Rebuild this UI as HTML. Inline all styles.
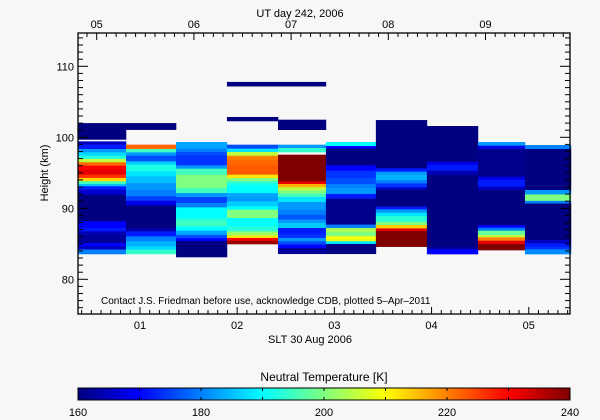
<!DOCTYPE html>
<html><head><meta charset="utf-8"><style>
html,body{margin:0;padding:0;background:#f7f7f7;}
svg{display:block;font-family:"Liberation Sans",sans-serif;}
</style></head><body>
<svg id="chart" width="600" height="420" viewBox="0 0 600 420" xmlns="http://www.w3.org/2000/svg">
<rect x="0" y="0" width="600" height="420" fill="#f7f7f7"/>
<g id="cells"></g>
<g id="axes"></g>
<text x="300" y="17" font-size="11" text-anchor="middle">UT day 242, 2006</text>
<text x="310" y="343" font-size="11" text-anchor="middle">SLT 30 Aug 2006</text>
<text transform="translate(48,173) rotate(-90)" font-size="11" text-anchor="middle">Height (km)</text>
<text x="101" y="304" font-size="10">Contact J.S. Friedman before use, acknowledge CDB, plotted 5–Apr–2011</text>
<text x="324" y="381" font-size="12" text-anchor="middle">Neutral Temperature [K]</text>
<g id="cbar"></g>
</svg>
<script>
// ---- data ----
const colStartUT = [4.808,5.301,5.816,6.340,6.865,7.358,7.872,8.397,8.922,9.406];
const colEndUT   = [5.301,5.816,6.340,6.865,7.358,7.872,8.397,8.922,9.406,9.879];
// per-column segments: [topKm, bottomKm, temperatureK]
const col1 = [[102.0,99.7,160],[99.43,98.97,165],[98.97,98.35,172],[98.35,97.88,182],[97.88,97.41,187],[97.41,96.95,193],[96.95,96.48,205],[96.48,96.0,222],[96.0,95.44,230],[95.44,94.74,232],[94.74,94.27,226],[94.27,93.8,213],[93.8,93.42,195],[93.42,93.1,185],[93.1,92.63,172],[92.63,91.92,166],[91.92,88.17,160],[88.17,87.23,170],[87.23,86.76,172],[86.76,86.29,164],[86.29,85.1,162],[85.1,84.65,170],[84.65,84.2,165],[84.2,83.57,180]];
const col2 = [[102.0,101.08,160],[98.97,98.35,222],[98.35,97.88,195],[97.88,97.41,182],[97.41,96.62,176],[96.62,96.15,186],[96.15,95.21,192],[95.21,94.5,188],[94.5,93.56,185],[93.56,92.63,182],[92.63,91.69,180],[91.69,91.08,175],[91.08,90.42,168],[90.42,87.23,160],[87.23,86.76,163],[86.76,86.05,172],[86.05,85.35,180],[85.35,84.65,184],[84.65,84.18,187],[84.18,83.57,194]];
const col3 = [[99.34,98.4,183],[98.4,97.93,180],[97.93,97.46,176],[97.46,96.05,174],[96.05,95.58,182],[95.58,94.73,195],[94.73,92.86,200],[92.86,92.15,195],[92.15,91.59,182],[91.59,90.74,175],[90.74,90.13,180],[90.13,88.63,190],[88.63,88.16,193],[88.16,87.46,195],[87.46,86.85,190],[86.85,86.25,183],[86.25,85.78,176],[85.78,85.4,170],[85.4,83.14,160]];
const col4 = [[107.8,107.2,160],[102.86,102.3,160],[98.96,98.4,176],[98.4,97.93,188],[97.93,97.41,205],[97.41,96.85,220],[96.85,96.05,222],[96.05,94.73,223],[94.73,94.27,212],[94.27,93.8,200],[93.8,93.33,193],[93.33,92.15,190],[92.15,91.59,183],[91.59,90.98,182],[90.98,90.28,186],[90.28,89.81,190],[89.81,88.63,200],[88.63,88.16,190],[88.16,87.46,190],[87.46,86.75,193],[86.75,86.19,202],[86.19,85.82,212],[85.82,85.44,230],[85.44,84.97,238]];
const col5 = [[107.8,107.2,160],[102.48,101.07,160],[98.96,98.49,182],[98.49,97.93,194],[97.55,93.8,240],[93.8,93.42,232],[93.42,92.95,216],[92.95,92.53,205],[92.53,92.06,200],[92.06,91.59,195],[91.59,90.88,188],[90.88,89.81,182],[89.81,89.1,180],[89.1,88.4,177],[88.4,87.93,182],[87.93,87.23,186],[87.23,86.29,172],[86.29,85.82,174],[85.82,85.35,182],[85.35,84.88,176],[84.88,84.41,170],[84.41,83.6,162]];
const col6 = [[99.34,98.77,190],[98.77,98.4,170],[98.4,96.05,160],[96.05,95.3,170],[95.3,94.27,174],[94.27,93.42,176],[93.42,92.86,180],[92.86,92.02,182],[92.02,91.36,172],[91.36,87.7,161],[87.7,87.23,180],[87.23,86.66,203],[86.66,86.05,200],[86.05,85.72,210],[85.72,85.35,208],[85.35,84.97,188],[84.97,83.6,160]];
const col7 = [[102.43,95.63,160],[95.63,95.16,172],[95.16,94.69,182],[94.69,93.98,184],[93.98,93.51,180],[93.51,92.95,174],[92.95,92.57,165],[92.57,90.23,160],[90.23,89.85,172],[89.85,89.38,182],[89.38,88.91,188],[88.91,88.11,193],[88.11,87.64,200],[87.64,87.17,214],[87.17,86.8,232],[86.8,84.6,240]];
const col8 = [[101.59,96.56,160],[96.56,96.1,168],[96.1,95.3,172],[95.3,94.69,164],[94.69,84.5,160],[84.5,84.22,163],[84.22,83.56,170]];
const col9 = [[99.33,98.82,182],[98.82,98.35,168],[98.35,94.45,161],[94.45,93.98,168],[93.98,93.04,172],[93.04,92.57,165],[92.57,87.64,160],[87.64,87.27,170],[87.27,86.85,180],[86.85,86.24,198],[86.24,85.91,205],[85.91,85.44,220],[85.44,84.97,232],[84.97,84.12,240]];
const col10 = [[98.91,98.35,180],[98.35,92.57,160],[92.57,91.95,182],[91.95,91.05,200],[91.05,90.67,180],[90.67,85.53,160],[85.53,85.06,165],[85.06,84.59,172],[84.59,84.22,174],[84.22,83.56,181]];
const columns = [col1,col2,col3,col4,col5,col6,col7,col8,col9,col10];
const yTicks = [80,90,100,110];
const topTickUT = [5,6,7,8,9];
const topTickLabels = ["05","06","07","08","09"];
const bottomTickSLT = [1,2,3,4,5];
const bottomTickLabels = ["01","02","03","04","05"];
const cbarTicks = [160,180,200,220,240];
const sltOffset = 4.445; // UT - SLT (hours)

// ---- scales ----
const X0=78, X1=570, Y0=33, Y1=314;
const xUT = ut => 96.7 + (ut-5)*97.2;
const yKm = h => 279.3 - (h-80)*7.1;
const tMin=160, tMax=240;
function clamp(v){return Math.max(0,Math.min(1,v));}
function jet(T){
  const t=clamp((T-tMin)/(tMax-tMin));
  const r=clamp(1.5-Math.abs(4*t-3)), g=clamp(1.5-Math.abs(4*t-2)), b=clamp(1.5-Math.abs(4*t-1));
  return `rgb(${Math.round(r*255)},${Math.round(g*255)},${Math.round(b*255)})`;
}
const NS="http://www.w3.org/2000/svg";
function mk(tag,attrs,parent){const e=document.createElementNS(NS,tag);for(const k in attrs)e.setAttribute(k,attrs[k]);parent.appendChild(e);return e;}

// ---- cells ----
const cells=document.getElementById('cells');
columns.forEach((col,i)=>{
  const xa=xUT(colStartUT[i]), xb=xUT(colEndUT[i]);
  col.forEach(s=>{
    const ya=yKm(s[0]), yb=yKm(s[1]);
    const r=mk('rect',{x:xa.toFixed(2),y:ya.toFixed(2),width:(xb-xa+0.3).toFixed(2),height:(yb-ya+0.3).toFixed(2),fill:jet(s[2])},cells);
    
    
  });
});

// ---- axes ----
const ax=document.getElementById('axes');
const frame=mk('rect',{x:X0,y:Y0,width:X1-X0,height:Y1-Y0,fill:'none',stroke:'#000','stroke-width':1.3},ax);


for(let h=76;h<=114;h++){
  const y=yKm(h); if(y<Y0||y>Y1)continue;
  const major=h%10===0, L=major?10:5;
  mk('line',{x1:X0,x2:X0+L,y1:y,y2:y,stroke:'#000','stroke-width':1},ax);
  mk('line',{x1:X1,x2:X1-L,y1:y,y2:y,stroke:'#000','stroke-width':1},ax);
}
yTicks.forEach(h=>{
  const t=mk('text',{x:X0-4,y:yKm(h)+4,'font-size':11,'text-anchor':'end'},ax);
  t.textContent=String(h);
  
  
});
for(let m=0;m<=60;m++){
  const ut=Math.round((4.8+m*0.1)*10)/10; const x=xUT(ut); if(x<X0||x>X1)continue;
  const major=Math.round(ut*10)%10===0;
  mk('line',{x1:x,x2:x,y1:Y0,y2:Y0+(major?7:4),stroke:'#000','stroke-width':1},ax);
}
topTickUT.forEach((u,i)=>{
  const t=mk('text',{x:xUT(u),y:28,'font-size':11,'text-anchor':'middle'},ax);
  t.textContent=topTickLabels[i];
  
  
});
for(let m=0;m<=60;m++){
  const slt=Math.round((0.3+m*0.1)*10)/10; const x=xUT(slt+sltOffset); if(x<X0||x>X1)continue;
  const major=Math.round(slt*10)%10===0;
  mk('line',{x1:x,x2:x,y1:Y1,y2:Y1-(major?7:4),stroke:'#000','stroke-width':1},ax);
}
bottomTickSLT.forEach((s,i)=>{
  const t=mk('text',{x:xUT(s+sltOffset),y:329,'font-size':11,'text-anchor':'middle'},ax);
  t.textContent=bottomTickLabels[i];
  
  
});

// ---- colorbar ----
const cb=document.getElementById('cbar');
const CB0=78, CB1=570, CBT=388, CBB=400;
const cx=T=>CB0+(T-tMin)/(tMax-tMin)*(CB1-CB0);
for(let T=tMin;T<tMax;T+=0.5){
  mk('rect',{x:cx(T).toFixed(2),y:CBT,width:((CB1-CB0)/160+0.4).toFixed(2),height:CBB-CBT,fill:jet(T+0.25)},cb);
}
mk('rect',{x:CB0,y:CBT,width:CB1-CB0,height:CBB-CBT,fill:'none',stroke:'#000','stroke-width':1},cb);
for(let T=170;T<tMax;T+=10){
  mk('line',{x1:cx(T),x2:cx(T),y1:CBT,y2:CBT+3,stroke:'#000'},cb);
  mk('line',{x1:cx(T),x2:cx(T),y1:CBB,y2:CBB-3,stroke:'#000'},cb);
}
cbarTicks.forEach(T=>{
  const t=mk('text',{x:cx(T),y:416,'font-size':11,'text-anchor':'middle'},cb);
  t.textContent=String(T);
  
  
});
</script>
</body></html>
